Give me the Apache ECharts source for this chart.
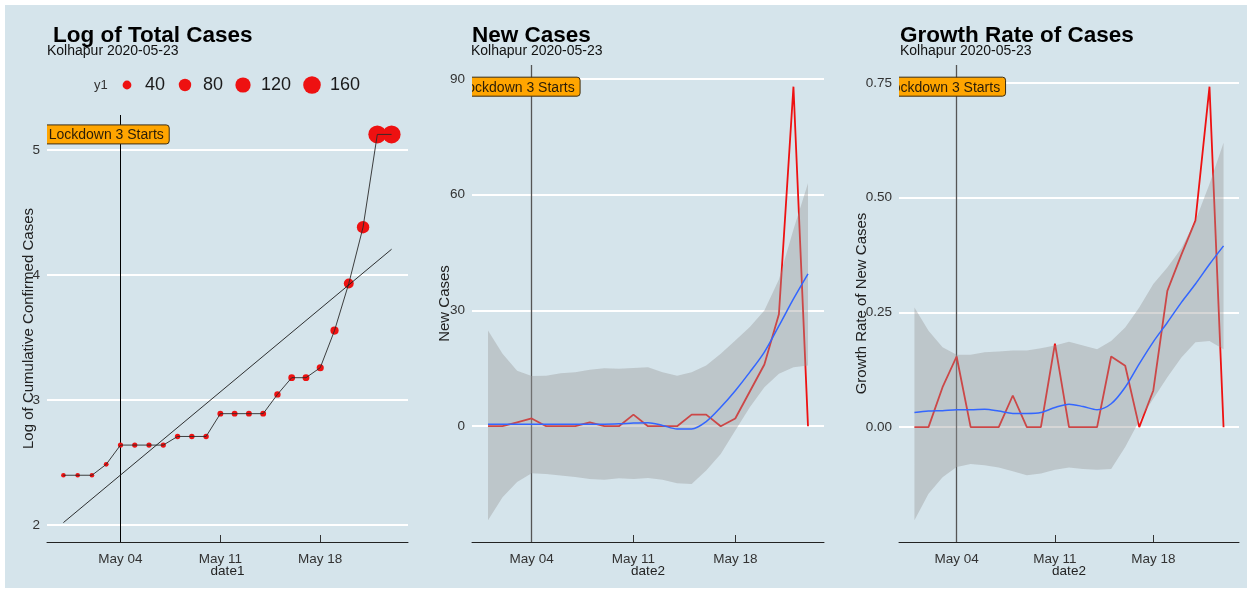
<!DOCTYPE html>
<html>
<head>
<meta charset="utf-8">
<script src="https://cdn.jsdelivr.net/npm/echarts@6/dist/echarts.min.js"></script>
<style>
  html, body { margin: 0; padding: 0; background: #ffffff; }
  #chart { width: 1252px; height: 590px; }
</style>
</head>
<body>
<div id="chart"></div>
<script>
// ---- data ----
const dates1 = ['2020-04-30','2020-05-01','2020-05-02','2020-05-03','2020-05-04','2020-05-05',
  '2020-05-06','2020-05-07','2020-05-08','2020-05-09','2020-05-10','2020-05-11','2020-05-12',
  '2020-05-13','2020-05-14','2020-05-15','2020-05-16','2020-05-17','2020-05-18','2020-05-19',
  '2020-05-20','2020-05-21','2020-05-22','2020-05-23'];
const totalCases = [11,11,11,12,14,14,14,14,15,15,15,18,18,18,18,21,24,24,26,35,51,80,168,168];

const dates2 = dates1.slice(1);
const newCases = [0,0,1,2,0,0,0,1,0,0,3,0,0,0,3,3,0,2,9,16,29,88,0];
const newFit   = [0.5,0.5,0.5,0.5,0.5,0.5,0.5,0.5,0.5,0.6,0.8,0.9,0.2,-0.7,-0.7,1.2,4.9,9.2,14.0,19.2,26.0,33.0,39.5];
const newUpper = [24.8,18.8,14.4,13.0,13.1,13.7,14.0,14.6,15.0,14.9,15.1,15.3,14.0,13.1,14.0,15.7,18.8,22.2,25.7,30.0,38.0,51.0,63.0];
const newLower = [-24.4,-18.4,-14.5,-12.2,-12.4,-12.8,-13.2,-13.7,-13.9,-13.5,-13.7,-13.4,-13.9,-14.8,-15.0,-11.5,-7.2,-1.1,4.9,10.1,13.6,15.3,15.7];

const growthRate  = [0,0,0.087,0.154,0,0,0,0.069,0,0,0.182,0,0,0,0.154,0.134,0,0.080,0.297,0.376,0.450,0.742,0];
const growthFit   = [0.032,0.035,0.036,0.038,0.038,0.039,0.035,0.030,0.030,0.032,0.043,0.050,0.045,0.038,0.051,0.087,0.138,0.186,0.228,0.272,0.312,0.355,0.395];
const growthUpper = [0.261,0.210,0.174,0.158,0.158,0.163,0.165,0.167,0.167,0.172,0.178,0.186,0.178,0.170,0.188,0.217,0.261,0.312,0.348,0.390,0.450,0.530,0.620];
const growthLower = [-0.203,-0.145,-0.109,-0.087,-0.080,-0.083,-0.088,-0.096,-0.105,-0.101,-0.093,-0.088,-0.091,-0.093,-0.091,-0.043,0.014,0.062,0.109,0.152,0.185,0.188,0.170];

const tickDates  = ['2020-05-04','2020-05-11','2020-05-18'];
const tickLabels = ['May 04','May 11','May 18'];
const yTicks1 = [2,3,4,5];
const yTicks2 = [0,30,60,90];
const yTicks3 = [0,0.25,0.5,0.75];
const legendValues = [40,80,120,160];

const lockdownDate = '2020-05-04';
const lockdownLabelDate = '2020-05-03';
const lockdownText = 'Lockdown 3 Starts';
const place = 'Kolhapur 2020-05-23';
const titles = ['Log of Total Cases','New Cases','Growth Rate of Cases'];

// ---- helpers ----
const FONT = '"Liberation Sans", Arial, Helvetica, sans-serif';
const BG = '#d5e4eb';
const day0 = Date.UTC(2020, 4, 4);
function dayNum(s) {
  const p = s.split('-').map(Number);
  return (Date.UTC(p[0], p[1] - 1, p[2]) - day0) / 864e5;
}
function expand(lo, hi) { const d = (hi - lo) * 0.05; return [lo - d, hi + d]; }
const tickDays = tickDates.map(dayNum);
function dateLabel(v) {
  const i = tickDays.indexOf(Math.round(v));
  return i >= 0 ? tickLabels[i] : '';
}
const symbolSizeOf = v => 1.39 * Math.sqrt(v);

// log totals and a least-squares line through them
const x1 = dates1.map(dayNum);
const logTotal = totalCases.map(v => Math.log(v));
const n1 = x1.length;
const mx = x1.reduce((a, b) => a + b, 0) / n1;
const my = logTotal.reduce((a, b) => a + b, 0) / n1;
let sxy = 0, sxx = 0;
for (let i = 0; i < n1; i++) { sxy += (x1[i] - mx) * (logTotal[i] - my); sxx += (x1[i] - mx) ** 2; }
const slope = sxy / sxx, icpt = my - slope * mx;
const fitEnds = [x1[0], x1[n1 - 1]].map(x => [x, icpt + slope * x]);

const x2 = dates2.map(dayNum);

const xr1 = expand(x1[0], x1[n1 - 1]);
const xr2 = expand(x2[0], x2[x2.length - 1]);
const yr1 = expand(Math.min(...logTotal, fitEnds[0][1], fitEnds[1][1]), Math.max(...logTotal, fitEnds[0][1], fitEnds[1][1]));
const yr2 = expand(Math.min(...newLower, ...newCases), Math.max(...newUpper, ...newCases));
const yr3 = expand(Math.min(...growthLower, ...growthRate), Math.max(...growthUpper, ...growthRate));

const grids = [
  { left: 47, top: 115, width: 361, height: 427 },
  { left: 472, top: 65, width: 352, height: 477 },
  { left: 899, top: 65, width: 340, height: 477 }
];

function xAxisFor(i, range, name) {
  return {
    type: 'value', gridIndex: i, min: range[0], max: range[1],
    name: name, nameLocation: 'middle', nameGap: 22, nameMoveOverlap: false,
    nameTextStyle: { fontFamily: FONT, fontSize: 13.5, color: '#222' },
    axisLine: { show: true, onZero: false, lineStyle: { color: '#222', width: 1 } },
    axisTick: { show: true, inside: true, length: 7, customValues: tickDays, lineStyle: { color: '#333' } },
    axisLabel: { customValues: tickDays, formatter: dateLabel, margin: 10,
      fontFamily: FONT, fontSize: 13.5, color: '#333' },
    splitLine: { show: false }
  };
}
function yAxisFor(i, range, ticks, name, gap, fmt) {
  return {
    type: 'value', gridIndex: i, min: range[0], max: range[1],
    name: name, nameLocation: 'middle', nameRotate: 90, nameGap: gap, nameMoveOverlap: false,
    nameTextStyle: { fontFamily: FONT, fontSize: 15, color: '#222' },
    axisLine: { show: false, onZero: false }, axisTick: { show: false },
    axisLabel: { customValues: ticks, formatter: fmt, margin: 7,
      fontFamily: FONT, fontSize: 13.5, color: '#333' },
    splitLine: { show: false }
  };
}

// white reference lines plus the lockdown marker, kept beneath the data
function guideSeries(i, ticks, vColor, vWidth) {
  return {
    type: 'line', xAxisIndex: i, yAxisIndex: i, data: [], silent: true, z: 1,
    markLine: {
      z: 1, silent: true, symbol: 'none', animation: false, label: { show: false },
      lineStyle: { color: '#ffffff', width: 2, type: 'solid' },
      data: ticks.map(v => ({ yAxis: v })).concat([
        { xAxis: dayNum(lockdownDate), lineStyle: { color: vColor, width: vWidth, type: 'solid' } }
      ])
    }
  };
}
function labelSeries(i, yMax) {
  return {
    type: 'custom', xAxisIndex: i, yAxisIndex: i, clip: true, z: 10, silent: true,
    data: [[dayNum(lockdownLabelDate), yMax]],
    renderItem: function (params, api) {
      const p = api.coord([api.value(0), api.value(1)]);
      const w = 126, h = 19;
      return {
        type: 'group',
        children: [
          { type: 'rect', shape: { x: p[0] - w / 2, y: p[1] - h / 2, width: w, height: h, r: 3 },
            style: { fill: '#FFA500', stroke: '#3b2c12', lineWidth: 1 } },
          { type: 'text', style: { x: p[0], y: p[1] + 1, text: lockdownText, align: 'center',
            verticalAlign: 'middle', fill: '#2a1d08', font: '14px ' + FONT } }
        ]
      };
    }
  };
}
// confidence band: one filled polygon between the upper and lower curves
function bandSeries(i, xs, lower, upper) {
  return {
    type: 'custom', xAxisIndex: i, yAxisIndex: i, z: 3, silent: true, clip: true,
    data: [[xs[0], lower[0]]],
    renderItem: function (params, api) {
      const pts = [];
      for (let k = 0; k < xs.length; k++) pts.push(api.coord([xs[k], upper[k]]));
      for (let k = xs.length - 1; k >= 0; k--) pts.push(api.coord([xs[k], lower[k]]));
      return { type: 'polygon', shape: { points: pts }, style: { fill: 'rgba(153,153,153,0.4)' } };
    }
  };
}

// size legend for the total-case points
const legendGraphics = [
  { type: 'text', x: 94, y: 85, style: { text: 'y1', font: '13px ' + FONT, fill: '#333', verticalAlign: 'middle' } }
];
const legendX = [127, 185, 243, 312];
legendValues.forEach((v, k) => {
  legendGraphics.push({ type: 'circle', shape: { cx: legendX[k], cy: 85, r: symbolSizeOf(v) / 2 },
    style: { fill: '#ee1111' } });
  legendGraphics.push({ type: 'text', x: legendX[k] + 18, y: 85,
    style: { text: String(v), font: '18px ' + FONT, fill: '#1a1a1a', verticalAlign: 'middle' } });
});

const titleLeft = [53, 472, 900];
const subLeft = [47, 471, 900];
const titleComps = [];
titles.forEach((t, i) => {
  titleComps.push({ text: t, left: titleLeft[i], top: 24, padding: 0,
    textStyle: { fontFamily: FONT, fontSize: 22.5, fontWeight: 'bold', color: '#000' } });
  titleComps.push({ text: place, left: subLeft[i], top: 44, padding: 0,
    textStyle: { fontFamily: FONT, fontSize: 14, fontWeight: 'normal', color: '#111' } });
});

const chart = echarts.init(document.getElementById('chart'), null, { renderer: 'canvas' });
chart.setOption({
  animation: false,
  backgroundColor: '#ffffff',
  title: titleComps,
  graphic: [
    { type: 'rect', z: -10, silent: true, shape: { x: 5, y: 5, width: 1242, height: 583 }, style: { fill: BG } }
  ].concat(legendGraphics),
  grid: grids,
  xAxis: [
    xAxisFor(0, xr1, 'date1'),
    xAxisFor(1, xr2, 'date2'),
    xAxisFor(2, xr2, 'date2')
  ],
  yAxis: [
    yAxisFor(0, yr1, yTicks1, 'Log of Cumulative Confirmed Cases', 11, v => String(v)),
    yAxisFor(1, yr2, yTicks2, 'New Cases', 20, v => String(v)),
    yAxisFor(2, yr3, yTicks3, 'Growth Rate of New Cases', 30, v => v.toFixed(2))
  ],
  series: [
    // panel 1
    guideSeries(0, yTicks1, '#000000', 1),
    { type: 'scatter', xAxisIndex: 0, yAxisIndex: 0, z: 2, silent: true,
      data: x1.map((x, k) => [x, logTotal[k], totalCases[k]]),
      symbolSize: v => symbolSizeOf(v[2]),
      itemStyle: { color: '#ee1111', opacity: 1 } },
    { type: 'line', xAxisIndex: 0, yAxisIndex: 0, z: 3, silent: true, showSymbol: false,
      data: x1.map((x, k) => [x, logTotal[k]]),
      lineStyle: { color: '#2a2a2a', width: 0.9 } },
    { type: 'line', xAxisIndex: 0, yAxisIndex: 0, z: 3, silent: true, showSymbol: false,
      data: fitEnds, lineStyle: { color: '#1a1a1a', width: 0.9 } },
    labelSeries(0, Math.max(...logTotal)),

    // panel 2
    guideSeries(1, yTicks2, '#555555', 1.3),
    { type: 'line', xAxisIndex: 1, yAxisIndex: 1, z: 2, silent: true, showSymbol: false,
      data: x2.map((x, k) => [x, newCases[k]]), lineStyle: { color: '#ee1111', width: 1.8 } },
    bandSeries(1, x2, newLower, newUpper),
    { type: 'line', xAxisIndex: 1, yAxisIndex: 1, z: 4, silent: true, showSymbol: false, smooth: 0.3,
      data: x2.map((x, k) => [x, newFit[k]]), lineStyle: { color: '#3366FF', width: 1.5 } },
    labelSeries(1, Math.max(...newCases)),

    // panel 3
    guideSeries(2, yTicks3, '#555555', 1.3),
    { type: 'line', xAxisIndex: 2, yAxisIndex: 2, z: 2, silent: true, showSymbol: false,
      data: x2.map((x, k) => [x, growthRate[k]]), lineStyle: { color: '#ee1111', width: 1.8 } },
    bandSeries(2, x2, growthLower, growthUpper),
    { type: 'line', xAxisIndex: 2, yAxisIndex: 2, z: 4, silent: true, showSymbol: false, smooth: 0.3,
      data: x2.map((x, k) => [x, growthFit[k]]), lineStyle: { color: '#3366FF', width: 1.5 } },
    labelSeries(2, Math.max(...growthRate))
  ]
});
</script>
</body>
</html>
